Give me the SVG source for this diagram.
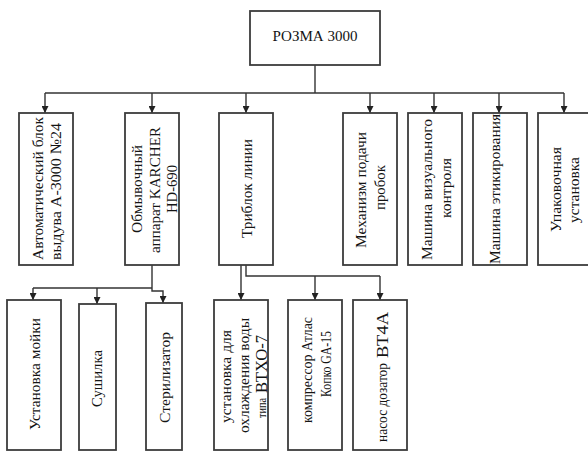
<svg xmlns="http://www.w3.org/2000/svg" width="588" height="451" viewBox="0 0 588 451">
<style>
  .box { fill: #ffffff; stroke: #3c3c3c; stroke-width: 1.8; }
  .ln { fill: none; stroke: #333333; stroke-width: 1.4; }
  .t { font-family: "Liberation Serif", "Times New Roman", serif; font-size: 15.5px; fill: #141414; text-anchor: middle; }
  .m { font-size: 15px; }
  .s { font-size: 14.5px; }
  .xs { font-size: 12.5px; text-anchor: start; }
  .big { font-size: 16.5px; text-anchor: start; }
  .st { text-anchor: start; }
</style>
<defs>
  <marker id="arr" markerWidth="7" markerHeight="7" refX="7" refY="3.5" orient="auto" markerUnits="userSpaceOnUse">
    <path d="M0,0 L7,3.5 L0,7 z" fill="#222222"/>
  </marker>
</defs>
<rect width="588" height="451" fill="#ffffff"/>

<g id="connectors">
  <line class="ln" x1="315" y1="65" x2="315" y2="93"/>
  <line class="ln" x1="45" y1="93" x2="564" y2="93"/>
  <line class="ln" x1="45" y1="93" x2="45" y2="113" marker-end="url(#arr)"/>
  <line class="ln" x1="152" y1="93" x2="152" y2="113" marker-end="url(#arr)"/>
  <line class="ln" x1="246" y1="93" x2="246" y2="113" marker-end="url(#arr)"/>
  <line class="ln" x1="370" y1="93" x2="370" y2="113" marker-end="url(#arr)"/>
  <line class="ln" x1="434" y1="93" x2="434" y2="113" marker-end="url(#arr)"/>
  <line class="ln" x1="499" y1="93" x2="499" y2="113" marker-end="url(#arr)"/>
  <line class="ln" x1="564" y1="93" x2="564" y2="113" marker-end="url(#arr)"/>

  <polyline class="ln" points="152,265 152,291 163,291 163,303" marker-end="url(#arr)"/>
  <line class="ln" x1="33" y1="288" x2="152" y2="288"/>
  <line class="ln" x1="33" y1="288" x2="33" y2="300" marker-end="url(#arr)"/>
  <line class="ln" x1="97" y1="288" x2="97" y2="304" marker-end="url(#arr)"/>

  <line class="ln" x1="241" y1="265" x2="241" y2="300" marker-end="url(#arr)"/>
  <polyline class="ln" points="246,265 246,276 380,276"/>
  <line class="ln" x1="315" y1="276" x2="315" y2="300" marker-end="url(#arr)"/>
  <line class="ln" x1="380" y1="276" x2="380" y2="300" marker-end="url(#arr)"/>
</g>

<g id="root">
  <rect class="box" x="250" y="11" width="130" height="54"/>
  <text class="t" x="315" y="40.5" font-size="15" textLength="85" lengthAdjust="spacingAndGlyphs">РОЗМА 3000</text>
</g>

<g id="n1">
  <rect class="box" x="19" y="113" width="54" height="152"/>
  <text class="t" transform="translate(43,188.5) rotate(-90)" textLength="143" lengthAdjust="spacingAndGlyphs">Автоматический блок</text>
  <text class="t" transform="translate(61,191.5) rotate(-90)" textLength="137" lengthAdjust="spacingAndGlyphs">выдува А-3000 №24</text>
</g>
<g id="n2">
  <rect class="box" x="125" y="113" width="54" height="152"/>
  <text class="t" transform="translate(142,189) rotate(-90)" textLength="88" lengthAdjust="spacingAndGlyphs">Обмывочный</text>
  <text class="t" transform="translate(159.5,190) rotate(-90)" textLength="126" lengthAdjust="spacingAndGlyphs">аппарат KARCHER</text>
  <text class="t" transform="translate(177,189) rotate(-90)" textLength="48" lengthAdjust="spacingAndGlyphs">HD-690</text>
</g>
<g id="n3">
  <rect class="box" x="219" y="113" width="54" height="152"/>
  <text class="t" transform="translate(252,188.5) rotate(-90)" textLength="99" lengthAdjust="spacingAndGlyphs">Триблок линии</text>
</g>
<g id="n4">
  <rect class="box" x="343" y="113" width="54" height="152"/>
  <text class="t" transform="translate(366,190) rotate(-90)" textLength="116" lengthAdjust="spacingAndGlyphs">Механизм подачи</text>
  <text class="t" transform="translate(385,187.5) rotate(-90)" textLength="45" lengthAdjust="spacingAndGlyphs">пробок</text>
</g>
<g id="n5">
  <rect class="box" x="408" y="113" width="54" height="152"/>
  <text class="t" transform="translate(432,189.5) rotate(-90)" textLength="141" lengthAdjust="spacingAndGlyphs">Машина визуального</text>
  <text class="t" transform="translate(451,188) rotate(-90)" textLength="60" lengthAdjust="spacingAndGlyphs">контроля</text>
</g>
<g id="n6">
  <rect class="box" x="473" y="113" width="54" height="152"/>
  <text class="t" transform="translate(500,189) rotate(-90)" textLength="150" lengthAdjust="spacingAndGlyphs">Машина этикирования</text>
</g>
<g id="n7">
  <rect class="box" x="538" y="113" width="54" height="152"/>
  <text class="t" transform="translate(561,189.5) rotate(-90)" textLength="85" lengthAdjust="spacingAndGlyphs">Упаковочная</text>
  <text class="t" transform="translate(579,190) rotate(-90)" textLength="66" lengthAdjust="spacingAndGlyphs">установка</text>
</g>

<g id="n8">
  <rect class="box" x="7" y="300" width="54" height="150"/>
  <text class="t m" transform="translate(40,374) rotate(-90)" textLength="112" lengthAdjust="spacingAndGlyphs">Установка мойки</text>
</g>
<g id="n9">
  <rect class="box" x="79" y="304" width="37" height="146"/>
  <text class="t m" transform="translate(102,378.5) rotate(-90)" textLength="57" lengthAdjust="spacingAndGlyphs">Сушилка</text>
</g>
<g id="n10">
  <rect class="box" x="146" y="303" width="36" height="147"/>
  <text class="t m" transform="translate(170,377.5) rotate(-90)" textLength="91" lengthAdjust="spacingAndGlyphs">Стерилизатор</text>
</g>
<g id="n11">
  <rect class="box" x="214" y="300" width="54" height="150"/>
  <text class="t s" transform="translate(231,376.5) rotate(-90)" textLength="93" lengthAdjust="spacingAndGlyphs">установка для</text>
  <text class="t s" transform="translate(249,375.5) rotate(-90)" textLength="115" lengthAdjust="spacingAndGlyphs">охлаждения воды</text>
  <text class="t xs" transform="translate(266,418) rotate(-90)" textLength="20" lengthAdjust="spacingAndGlyphs">типа</text>
  <text class="t big" transform="translate(267,393) rotate(-90)" textLength="58" lengthAdjust="spacingAndGlyphs">ВТХО-7</text>
</g>
<g id="n12">
  <rect class="box" x="288" y="300" width="54" height="150"/>
  <text class="t s" transform="translate(312,370) rotate(-90)" textLength="106" lengthAdjust="spacingAndGlyphs">компрессор Атлас</text>
  <text class="t" font-size="14" transform="translate(331,364) rotate(-90)" textLength="66" lengthAdjust="spacingAndGlyphs">Копко GA-15</text>
</g>
<g id="n13">
  <rect class="box" x="353" y="300" width="54" height="150"/>
  <text class="t s st" transform="translate(387,442) rotate(-90)" textLength="79" lengthAdjust="spacingAndGlyphs">насос дозатор</text>
  <text class="t big" transform="translate(388,358) rotate(-90)" textLength="46" lengthAdjust="spacingAndGlyphs">ВТ4А</text>
</g>
</svg>
